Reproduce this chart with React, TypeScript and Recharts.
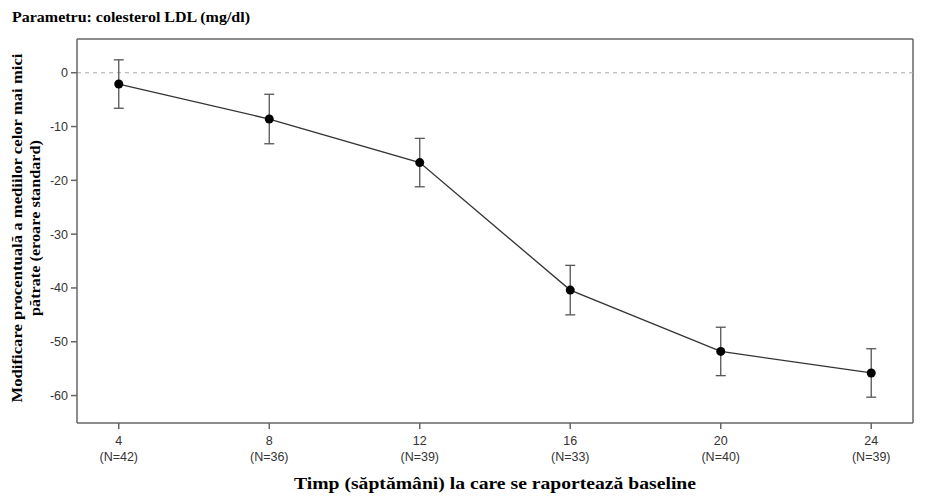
import React from 'react';
import {
  ComposedChart,
  Line,
  XAxis,
  YAxis,
  ErrorBar,
  ReferenceLine,
} from 'recharts';

// Percent change in LDL cholesterol by week, least-squares means with standard errors
const weeks = [4, 8, 12, 16, 20, 24];
const nLabels = ['(N=42)', '(N=36)', '(N=39)', '(N=33)', '(N=40)', '(N=39)'];
const lsMeans = [-2.1, -8.6, -16.7, -40.4, -51.8, -55.8];
const stdErrors = [4.5, 4.6, 4.5, 4.6, 4.5, 4.5];
const yTicks = [0, -10, -20, -30, -40, -50, -60];

const X_DOMAIN: [number, number] = [2.89, 25.11];
const Y_DOMAIN: [number, number] = [-65.1, 6.27];

const data = weeks.map((w, i) => ({
  week: w,
  n: nLabels[i],
  mean: lsMeans[i],
  se: stdErrors[i],
}));

const SANS = '"Liberation Sans", Arial, sans-serif';
const SERIF = '"Liberation Serif", "Times New Roman", serif';
const AXIS = '#666';
const TICK_TEXT = '#333';

const XTick = (props: any) => {
  const { x, y, payload } = props;
  const idx = weeks.indexOf(payload.value);
  return (
    <g transform={`translate(${x},${y})`}>
      <text textAnchor="middle" fontFamily={SANS} fontSize={12.5} fill={TICK_TEXT}>
        <tspan x={0} y={14}>{payload.value}</tspan>
        <tspan x={0} y={30}>{idx >= 0 ? nLabels[idx] : ''}</tspan>
      </text>
    </g>
  );
};

const YLabel = (props: any) => {
  const { viewBox } = props;
  const cy = viewBox.y + viewBox.height / 2 - 3;
  const x1 = 14;
  const x2 = 32;
  return (
    <g fontFamily={SERIF} fontWeight="bold" fontSize={15.5} fill="#000">
      <text
        x={x1}
        y={cy}
        textAnchor="middle"
        textLength={349}
        lengthAdjust="spacingAndGlyphs"
        transform={`rotate(-90, ${x1}, ${cy})`}
      >
        Modificare procentuală a mediilor celor mai mici
      </text>
      <text
        x={x2}
        y={cy}
        textAnchor="middle"
        textLength={176}
        lengthAdjust="spacingAndGlyphs"
        transform={`rotate(-90, ${x2}, ${cy})`}
      >
        pătrate (eroare standard)
      </text>
    </g>
  );
};

const XLabel = (props: any) => {
  const { viewBox } = props;
  const cx = viewBox.x + viewBox.width / 2;
  return (
    <text
      x={cx}
      y={viewBox.y + 66}
      textAnchor="middle"
      fontFamily={SERIF}
      fontWeight="bold"
      fontSize={16}
      textLength={402}
      lengthAdjust="spacingAndGlyphs"
      fill="#000"
    >
      Timp (săptămâni) la care se raportează baseline
    </text>
  );
};

export default function App() {
  return (
    <div style={{ position: 'relative', width: 920, height: 494 }}>
      <svg
        width={920}
        height={30}
        style={{ position: 'absolute', left: 0, top: 0, pointerEvents: 'none' }}
      >
        <text
          x={4}
          y={14}
          fontFamily={SERIF}
          fontWeight="bold"
          fontSize={15.5}
          textLength={238}
          lengthAdjust="spacingAndGlyphs"
          fill="#000"
        >
          Parametru: colesterol LDL (mg/dl)
        </text>
      </svg>
      <ComposedChart
        width={920}
        height={494}
        data={data}
        margin={{ top: 31, right: 15, left: 9, bottom: 29 }}
      >
        <XAxis
          dataKey="week"
          type="number"
          domain={X_DOMAIN}
          ticks={weeks}
          interval={0}
          height={50}
          stroke={AXIS}
          strokeWidth={1.5}
          tickSize={6}
          tick={<XTick />}
          label={<XLabel />}
        />
        <YAxis
          type="number"
          domain={Y_DOMAIN}
          ticks={yTicks}
          interval={0}
          width={60}
          stroke={AXIS}
          strokeWidth={1.5}
          tickSize={6}
          tickMargin={3}
          tick={{ fontFamily: SANS, fontSize: 12.5, fill: TICK_TEXT }}
          label={<YLabel />}
        />
        {/* frame: top and right edges of the plot area */}
        <ReferenceLine y={Y_DOMAIN[1]} stroke={AXIS} strokeWidth={1.5} />
        <ReferenceLine x={X_DOMAIN[1]} stroke={AXIS} strokeWidth={1.5} />
        <ReferenceLine y={0} stroke="#aaa" strokeDasharray="4 4" strokeWidth={1} />
        <Line
          dataKey="mean"
          type="linear"
          stroke="#333"
          strokeWidth={1.3}
          dot={{ r: 4.5, fill: '#000', stroke: '#000', strokeWidth: 0 }}
          activeDot={false}
          isAnimationActive={false}
        >
          <ErrorBar dataKey="se" width={5} stroke="#555" strokeWidth={1.3} direction="y" />
        </Line>
      </ComposedChart>
    </div>
  );
}
